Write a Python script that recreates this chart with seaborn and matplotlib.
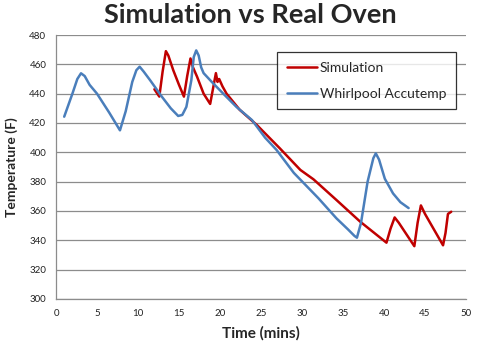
import matplotlib
matplotlib.use("Agg")
import matplotlib.pyplot as plt
import seaborn as sns
import pandas as pd

# Data
sim_time = [12.0, 12.6, 13.0, 13.4, 13.7, 14.3, 15.0, 15.6, 16.0, 16.4, 16.7, 17.2, 18.0, 18.8,
            19.2, 19.5, 19.7, 19.9, 20.3, 20.8, 22.4, 24.5, 27.3, 29.8, 31.4, 34.2, 37.1,
            40.3, 40.8, 41.3, 41.8, 43.7, 44.1, 44.5, 45.0, 47.2, 47.5, 47.8, 48.2]
sim_temp = [443, 438, 455, 469, 466, 456, 446, 438, 452, 464, 458, 451.6, 440, 433,
            445, 454, 448, 450, 445, 440, 429, 418.6, 402.7, 388, 381.6, 367.5, 352.7,
            338.4, 348, 355.6, 352, 336, 352, 363.8, 358, 336.6, 345, 358, 359.5]

whirl_time = [1.0, 2.0, 2.6, 3.05, 3.5, 4.1, 5.0, 6.5, 7.8, 8.5, 9.3, 9.8, 10.2, 10.7, 11.5,
              12.9, 14.0, 14.9, 15.4, 15.9, 16.5, 16.8, 17.1, 17.4, 17.7, 18.0, 19.0, 20.4,
              22.0, 23.9, 25.5, 26.9, 29.0, 32.0, 34.2, 35.6, 36.4, 36.7, 37.2, 38.0, 38.7,
              39.0, 39.4, 40.1, 41.1, 42.0, 43.0]
whirl_temp = [424.3, 440, 450, 453.9, 452, 446, 440, 427, 415, 428, 448, 456, 458.4, 455, 449,
              438, 430, 424.8, 425.5, 431, 449, 465, 469.5, 466, 458, 454, 448, 440,
              431, 422, 410, 401.6, 386, 368.7, 355, 347.5, 343, 341.8, 352, 380, 396,
              399.3, 395, 382, 372, 366, 362]

series_names = ["Simulation", "Whirlpool Accutemp"]
colors = ["#C00000", "#4A7EBB"]

df = pd.concat([
    pd.DataFrame({"Time": sim_time, "Temp": sim_temp, "Series": series_names[0]}),
    pd.DataFrame({"Time": whirl_time, "Temp": whirl_temp, "Series": series_names[1]}),
], ignore_index=True)

sns.set_style("white")
plt.rcParams["font.family"] = ["Lato", "DejaVu Sans"]

fig = plt.figure(figsize=(5.0, 3.49), dpi=100)
ax = fig.add_axes([0.112, 0.1433, 0.82, 0.7564])

sns.lineplot(data=df, x="Time", y="Temp", hue="Series", hue_order=series_names,
             palette=colors, sort=False, estimator=None, linewidth=1.8, ax=ax)

ax.set_xlim(0, 50)
ax.set_ylim(300, 480)
ax.set_xticks(range(0, 51, 5))
ax.set_yticks(range(300, 481, 20))
ax.grid(axis="y", color="#8C8C8C", linewidth=0.9)
ax.grid(axis="x", visible=False)
ax.set_axisbelow(True)
for s in ["top", "right"]:
    ax.spines[s].set_visible(False)
for s in ["left", "bottom"]:
    ax.spines[s].set_color("#8C8C8C")
    ax.spines[s].set_linewidth(0.9)
ax.tick_params(axis="both", which="major", direction="out", length=4, width=0.9,
               color="#8C8C8C", labelsize=7, labelcolor="#222222", pad=3)

ax.set_xlabel("Time (mins)", fontsize=11, fontweight="bold", labelpad=6)
ax.set_ylabel("Temperature (F)", fontsize=10, fontweight="bold", labelpad=8)
fig.suptitle("Simulation vs Real Oven", fontsize=19.5, fontweight="bold", y=0.99)

leg = ax.legend(loc="upper left", bbox_to_anchor=(0.539, 0.935), frameon=True,
                fancybox=False, edgecolor="black", fontsize=10, handlelength=2.2,
                handletextpad=0.2, labelspacing=1.0, borderpad=0.7, borderaxespad=0)
leg.get_frame().set_linewidth(0.9)
leg.set_title(None)

fig.savefig("out.png", dpi=100)
